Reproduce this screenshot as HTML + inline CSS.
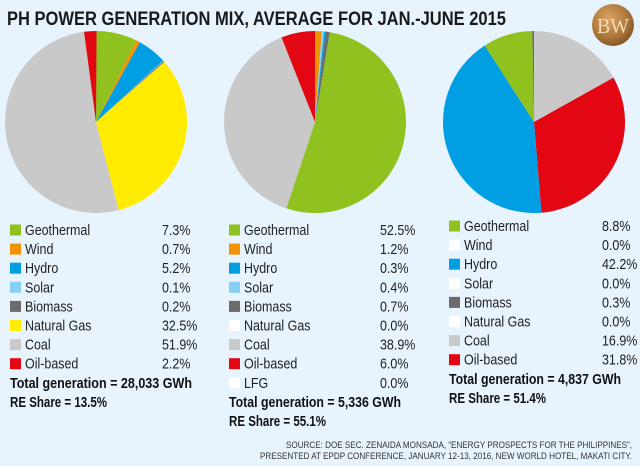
<!DOCTYPE html>
<html><head><meta charset="utf-8">
<style>
html,body{margin:0;padding:0;background:#e7f4fd;}
svg{display:block;font-family:"Liberation Sans",sans-serif;}
</style></head>
<body>
<svg id="chart" width="640" height="466" viewBox="0 0 640 466" xmlns="http://www.w3.org/2000/svg">
<defs>
<radialGradient id="gold" cx="40%" cy="35%" r="70%">
<stop offset="0" stop-color="#d9a467"/><stop offset="0.6" stop-color="#b07a3c"/><stop offset="1" stop-color="#7f5422"/>
</radialGradient>
</defs>
<rect width="640" height="466" fill="#e7f4fd"/>
<text x="7" y="25" font-size="19" font-weight="bold" fill="#1a1a1a" textLength="499" lengthAdjust="spacingAndGlyphs">PH POWER GENERATION MIX, AVERAGE FOR JAN.-JUNE 2015</text>
<g>
<circle cx="613" cy="25" r="21" fill="url(#gold)"/>
<text x="613" y="33" font-family="Liberation Serif,serif" font-size="21" fill="#f3dcb6" text-anchor="middle" textLength="32" lengthAdjust="spacingAndGlyphs">BW</text>
</g>
<g id="pies"></g>
<g id="legends"></g>
<text x="632" y="448" font-size="9.5" fill="#333" text-anchor="end" textLength="346" lengthAdjust="spacingAndGlyphs">SOURCE: DOE SEC. ZENAIDA MONSADA, “ENERGY PROSPECTS FOR THE PHILIPPINES”,</text>
<text x="632" y="459" font-size="9.5" fill="#333" text-anchor="end" textLength="372" lengthAdjust="spacingAndGlyphs">PRESENTED AT EPDP CONFERENCE, JANUARY 12-13, 2016, NEW WORLD HOTEL, MAKATI CITY.</text>
</svg>
<script>
// Data
const categories1 = ["Geothermal","Wind","Hydro","Solar","Biomass","Natural Gas","Coal","Oil-based"];
const values1 = [7.3,0.7,5.2,0.1,0.2,32.5,51.9,2.2];
const categories2 = ["Geothermal","Wind","Hydro","Solar","Biomass","Natural Gas","Coal","Oil-based","LFG"];
const values2 = [52.5,1.2,0.3,0.4,0.7,0.0,38.9,6.0,0.0];
const categories3 = ["Geothermal","Wind","Hydro","Solar","Biomass","Natural Gas","Coal","Oil-based"];
const values3 = [8.8,0.0,42.2,0.0,0.3,0.0,16.9,31.8];
const order1 = ["Geothermal","Wind","Hydro","Solar","Biomass","Natural Gas","Coal","Oil-based"];
const order2 = ["Wind","Solar","Hydro","Biomass","Geothermal","Coal","Oil-based","Natural Gas","LFG"];
const order3 = ["Coal","Oil-based","Hydro","Geothermal","Biomass","Wind","Solar","Natural Gas"];
const totals = ["Total generation = 28,033 GWh","Total generation = 5,336 GWh","Total generation = 4,837 GWh"];
const reShares = ["RE Share = 13.5%","RE Share = 55.1%","RE Share = 51.4%"];

const colors = {"Geothermal":"#8fc11f","Wind":"#f39200","Hydro":"#009fe3","Solar":"#86d0f5","Biomass":"#6b6b6b","Natural Gas":"#ffec00","Coal":"#c9c9c9","Oil-based":"#e30613","LFG":"#ffffff"};
const NS="http://www.w3.org/2000/svg";
function mk(tag,attrs,parent){const e=document.createElementNS(NS,tag);for(const k in attrs)e.setAttribute(k,attrs[k]);parent.appendChild(e);return e;}

const layouts=[
 {cx:96,cy:122,r:91,lx:10,vx:162,ly:230,cats:categories1,vals:values1,order:order1,tw:182},
 {cx:315,cy:122,r:91,lx:229,vx:380,ly:230,cats:categories2,vals:values2,order:order2,tw:172},
 {cx:534,cy:122,r:91,lx:449,vx:602,ly:226,cats:categories3,vals:values3,order:order3,tw:172}
];
const pies=document.getElementById('pies'), legs=document.getElementById('legends');
function angle(p){return p/100*2*Math.PI;}
layouts.forEach((L,i)=>{
  const g=mk('g',{},pies);
  
  
  let cum=0;
  L.order.forEach(name=>{
    const v=L.vals[L.cats.indexOf(name)];
    if(!(v>0)) return;
    const a0=angle(cum), a1=angle(cum+v); cum+=v;
    const x0=L.cx+L.r*Math.sin(a0), y0=L.cy-L.r*Math.cos(a0);
    const x1=L.cx+L.r*Math.sin(a1), y1=L.cy-L.r*Math.cos(a1);
    const large=(a1-a0)>Math.PI?1:0;
    const p=mk('path',{d:`M${L.cx},${L.cy}L${x0},${y0}A${L.r},${L.r} 0 ${large} 1 ${x1},${y1}Z`,fill:colors[name]},g);
    
    
  });
  const lg=mk('g',{},legs);
  
  
  const step=19.1;
  L.cats.forEach((name,j)=>{
    const y=L.ly+j*step;
    const v=L.vals[j];
    const row=mk('g',{},lg);
    
    
    mk('rect',{x:L.lx,y:y-5.5,width:11,height:11,fill:v>0?colors[name]:'#ffffff'},row);
    const t=mk('text',{transform:`translate(${L.lx+15},${y+5}) scale(0.86,1)`,'font-size':14.5,fill:'#222'},row);
    t.textContent=name;
    const tv=mk('text',{transform:`translate(${L.vx},${y+5}) scale(0.86,1)`,'font-size':14.5,fill:'#222'},row);
    tv.textContent=v.toFixed(1)+'%';
  });
  const ty=L.ly+L.cats.length*step;
  const t1=mk('text',{x:L.lx,y:ty+5,'font-size':15,'font-weight':'bold',fill:'#111',textLength:L.tw,lengthAdjust:'spacingAndGlyphs'},lg);
  
  
  t1.textContent=totals[i];
  const t2=mk('text',{x:L.lx,y:ty+step+5,'font-size':15,'font-weight':'bold',fill:'#111',textLength:97,lengthAdjust:'spacingAndGlyphs'},lg);
  
  
  t2.textContent=reShares[i];
});
</script>
</body></html>
